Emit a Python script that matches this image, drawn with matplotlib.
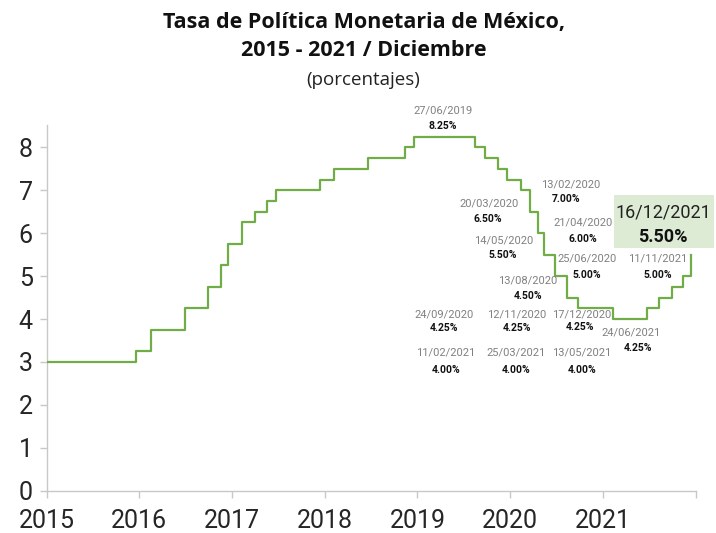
import matplotlib
matplotlib.use("Agg")
import matplotlib.pyplot as plt
from matplotlib.patches import Rectangle
import pandas as pd

# ---------------- data ----------------
change_dates = ["2015-01-01", "2015-12-17", "2016-02-17", "2016-06-30", "2016-09-29",
                "2016-11-17", "2016-12-15", "2017-02-09", "2017-03-30", "2017-05-18",
                "2017-06-22", "2017-12-14", "2018-02-08", "2018-06-21", "2018-11-15",
                "2018-12-20", "2019-08-15", "2019-09-26", "2019-11-14", "2019-12-19",
                "2020-02-13", "2020-03-20", "2020-04-21", "2020-05-14", "2020-06-25",
                "2020-08-13", "2020-09-24", "2021-02-11", "2021-06-24", "2021-08-12",
                "2021-09-30", "2021-11-11", "2021-12-16"]
rates = [3.00, 3.25, 3.75, 4.25, 4.75, 5.25, 5.75, 6.25, 6.50, 6.75,
         7.00, 7.25, 7.50, 7.75, 8.00, 8.25, 8.00, 7.75, 7.50, 7.25,
         7.00, 6.50, 6.00, 5.50, 5.00, 4.50, 4.25, 4.00, 4.25, 4.50,
         4.75, 5.00, 5.50]

year_ticks = ["2015-01-01", "2016-01-01", "2017-01-01", "2018-01-01",
              "2019-01-01", "2020-01-01", "2021-01-01", "2022-01-01"]
year_labels = ["2015", "2016", "2017", "2018", "2019", "2020", "2021", ""]
y_ticks = [0, 1, 2, 3, 4, 5, 6, 7, 8]

ann_dates = ["27/06/2019", "13/02/2020", "20/03/2020", "21/04/2020", "14/05/2020",
             "25/06/2020", "13/08/2020", "24/09/2020", "12/11/2020", "17/12/2020",
             "24/06/2021", "11/02/2021", "25/03/2021", "13/05/2021", "11/11/2021"]
ann_values = ["8.25%", "7.00%", "6.50%", "6.00%", "5.50%",
              "5.00%", "4.50%", "4.25%", "4.25%", "4.25%",
              "4.25%", "4.00%", "4.00%", "4.00%", "5.00%"]
last_date = "16/12/2021"
last_value = "5.50%"

title_l1 = "Tasa de Política Monetaria de México,"
title_l2 = "2015 - 2021 / Diciembre"
subtitle = "(porcentajes)"

# ---------------- layout (reference pixel positions of label centres) ----------------
W, H = 716, 533
ann_pos = [((443, 110), (443, 126)), ((571, 184), (566, 199)), ((489, 203), (488, 219)),
           ((583, 223), (583, 239)), ((504, 240), (503, 255)), ((587, 259), (587, 275)),
           ((528, 280), (528, 296)), ((444, 314), (444, 328)), ((517, 314), (517, 328)),
           ((582, 314), (580, 327)), ((631, 333), (638, 348)), ((446, 353), (446, 370)),
           ((516, 353), (516, 370)), ((582, 353), (582, 370)), ((658, 259), (658, 275))]

def fx(px):
    return px / W

def fy(py):
    return 1 - py / H

main_font = ["Roboto", "DejaVu Sans"]
title_font = ["Open Sans", "DejaVu Sans"]
plt.rcParams["font.family"] = main_font

fig = plt.figure(figsize=(W / 100, H / 100), dpi=100)
fig.patch.set_facecolor("white")
ax = fig.add_axes([46.7 / W, 1 - 490.7 / H, (695.5 - 46.7) / W, (490.7 - 125) / H])

x = pd.to_datetime(change_dates)
ax.step(x, rates, where="post", color="#70AD47", lw=1.6, zorder=3)

ax.set_xlim(pd.Timestamp(year_ticks[0]), pd.Timestamp(year_ticks[-1]))
ax.set_ylim(0, 8.52)
ax.set_xticks(pd.to_datetime(year_ticks))
ax.set_xticklabels(year_labels)
ax.set_yticks(y_ticks)
ax.set_yticklabels([str(v) for v in y_ticks])

for s in ["top", "right"]:
    ax.spines[s].set_visible(False)
for s in ["left", "bottom"]:
    ax.spines[s].set_color("#C8C8C8")
    ax.spines[s].set_linewidth(1.0)
ax.tick_params(axis="both", colors="#C8C8C8", length=5, width=1.0,
               labelcolor="#262626", labelsize=18)
ax.tick_params(axis="x", pad=8.5)
ax.tick_params(axis="y", pad=5)

# titles
fig.text(fx(364), fy(22), title_l1, ha="center", va="center", fontsize=15.5,
         fontweight="bold", color="#111111", family=title_font)
fig.text(fx(364), fy(51), title_l2, ha="center", va="center", fontsize=15.5,
         fontweight="bold", color="#111111", family=title_font)
fig.text(fx(363), fy(80), subtitle, ha="center", va="center", fontsize=13.5,
         color="#222222", family=title_font)

# annotations
for d, v, (pd_, pv) in zip(ann_dates, ann_values, ann_pos):
    fig.text(fx(pd_[0]), fy(pd_[1]), d, ha="center", va="center", fontsize=8,
             color="#808080")
    fig.text(fx(pv[0]), fy(pv[1]), v, ha="center", va="center", fontsize=7.5,
             fontweight="bold", color="#111111")

# highlighted last value
fig.add_artist(Rectangle((fx(614), fy(248)), (714 - 614) / W, (248 - 195) / H,
                         transform=fig.transFigure, facecolor="#DDEBD5",
                         edgecolor="none", zorder=1))
fig.text(fx(663), fy(213), last_date, ha="center", va="center", fontsize=13,
         color="#222222", zorder=2)
fig.text(fx(663), fy(237), last_value, ha="center", va="center", fontsize=13,
         fontweight="bold", color="#111111", zorder=2)

fig.savefig("out.png", dpi=100, facecolor="white")
